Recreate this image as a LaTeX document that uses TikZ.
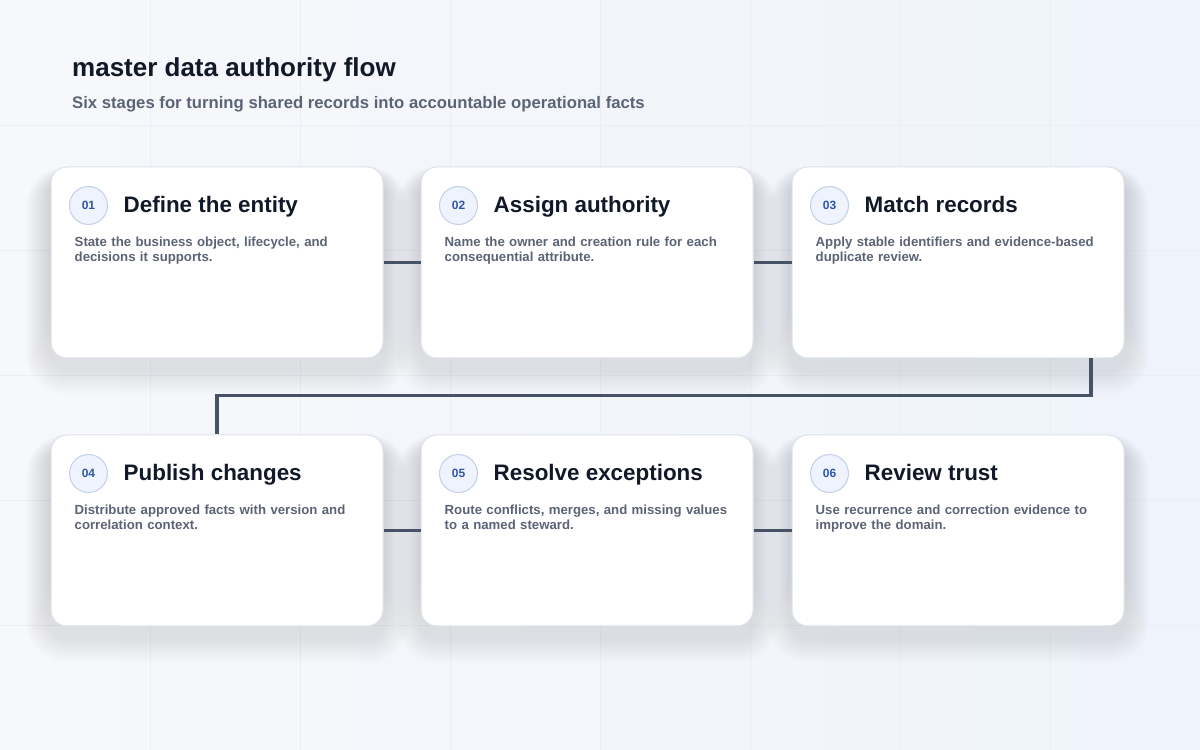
\documentclass[tikz,border=0pt]{standalone}
\usepackage{fontspec}
\setmainfont{Liberation Sans}
\usetikzlibrary{positioning}
\definecolor{ink}{HTML}{111827}
\definecolor{muted}{HTML}{5B6475}
\definecolor{edge}{HTML}{DDE3EC}
\definecolor{wire}{HTML}{465366}
\definecolor{badgefill}{HTML}{EEF3FD}
\definecolor{badgeline}{HTML}{C3D0E6}
\definecolor{badgetext}{HTML}{2F56A8}
\definecolor{bgA}{HTML}{F7F8FB}
\definecolor{bgB}{HTML}{EFF3FB}
\definecolor{gridc}{HTML}{EBEEF4}
\definecolor{shade}{HTML}{8C9BB8}
\pgfdeclarelayer{back}
\pgfsetlayers{back,main}

\begin{document}
\begin{tikzpicture}[x=1pt,y=1pt,
	card/.style={rectangle, rounded corners=16pt, minimum width=332pt, minimum height=191pt, fill=white, draw=edge, line width=1pt},
	badge/.style={circle, minimum size=38pt, inner sep=0pt, fill=badgefill, draw=badgeline, line width=1pt, text=badgetext, font=\bfseries\fontsize{12}{14}\selectfont},
	head/.style={anchor=base west, inner sep=0pt, text=ink, font=\bfseries\fontsize{22.4}{26}\selectfont},
	note/.style={anchor=north west, inner sep=0pt, text width=310pt, align=left, text=muted, font=\bfseries\fontsize{13.2}{15}\selectfont},
	flow/.style={draw=wire, line width=3.5pt}
	]

	\useasboundingbox (0,0) rectangle (1200,750);

	\node (title) [anchor=base west, inner sep=0pt, text=ink, font=\bfseries\fontsize{26}{30}\selectfont] at (72,673) {master data authority flow};
	\node (subtitle) [anchor=base west, inner sep=0pt, text=muted, font=\bfseries\fontsize{16.7}{19}\selectfont] at (72,641) {Six stages for turning shared records into accountable operational facts};

		\node (c1) [card] at (217,487.5) {};
		\node (c2) [card, right=37pt of c1] {};
		\node (c3) [card, right=38pt of c2] {};
		\node (c4) [card, below=76pt of c1] {};
		\node (c5) [card, below=76pt of c2] {};
		\node (c6) [card, below=76pt of c3] {};

		\node (b1) [badge] at ([xshift=38pt,yshift=-39pt]c1.north west) {01};
		\node (h1) [head] at ([xshift=73pt,yshift=-46pt]c1.north west) {Define the entity};
		\node (n1) [note] at ([xshift=24pt,yshift=-70pt]c1.north west) {State the business object, lifecycle, and\\decisions it supports.};

		\node (b2) [badge] at ([xshift=38pt,yshift=-39pt]c2.north west) {02};
		\node (h2) [head] at ([xshift=73pt,yshift=-46pt]c2.north west) {Assign authority};
		\node (n2) [note] at ([xshift=24pt,yshift=-70pt]c2.north west) {Name the owner and creation rule for each\\consequential attribute.};

		\node (b3) [badge] at ([xshift=38pt,yshift=-39pt]c3.north west) {03};
		\node (h3) [head] at ([xshift=73pt,yshift=-46pt]c3.north west) {Match records};
		\node (n3) [note] at ([xshift=24pt,yshift=-70pt]c3.north west) {Apply stable identifiers and evidence-based\\duplicate review.};

		\node (b4) [badge] at ([xshift=38pt,yshift=-39pt]c4.north west) {04};
		\node (h4) [head] at ([xshift=73pt,yshift=-46pt]c4.north west) {Publish changes};
		\node (n4) [note] at ([xshift=24pt,yshift=-70pt]c4.north west) {Distribute approved facts with version and\\correlation context.};

		\node (b5) [badge] at ([xshift=38pt,yshift=-39pt]c5.north west) {05};
		\node (h5) [head] at ([xshift=73pt,yshift=-46pt]c5.north west) {Resolve exceptions};
		\node (n5) [note] at ([xshift=24pt,yshift=-70pt]c5.north west) {Route conflicts, merges, and missing values\\to a named steward.};

		\node (b6) [badge] at ([xshift=38pt,yshift=-39pt]c6.north west) {06};
		\node (h6) [head] at ([xshift=73pt,yshift=-46pt]c6.north west) {Review trust};
		\node (n6) [note] at ([xshift=24pt,yshift=-70pt]c6.north west) {Use recurrence and correction evidence to\\improve the domain.};

	\draw [flow] (c1.east) -- (c2.west);
	\draw [flow] (c2.east) -- (c3.west);
	\draw [flow] ([xshift=133pt]c3.south) |- ([yshift=39pt]c4.north) -- (c4.north);
	\draw [flow] (c4.east) -- (c5.west);
	\draw [flow] (c5.east) -- (c6.west);

	\begin{pgfonlayer}{back}
		\fill [left color=bgA, right color=bgB] (0,0) rectangle (1200,750);
		\foreach \gx in {150,300,...,1050} \draw [gridc, line width=0.6pt] (\gx,0) -- (\gx,750);
		\foreach \gy in {125,250,...,625} \draw [gridc, line width=0.6pt] (0,\gy) -- (1200,\gy);
		\foreach \c in {c1,c2,c3,c4,c5,c6}
			\foreach \k in {1,...,12}
				\fill [shade, opacity=0.008, rounded corners=16pt+2*\k pt] ([shift={(-2*\k,-12-2*\k)}]\c.south west) rectangle ([shift={(2*\k,-12+\k)}]\c.north east);
	\end{pgfonlayer}

\end{tikzpicture}
\end{document}
